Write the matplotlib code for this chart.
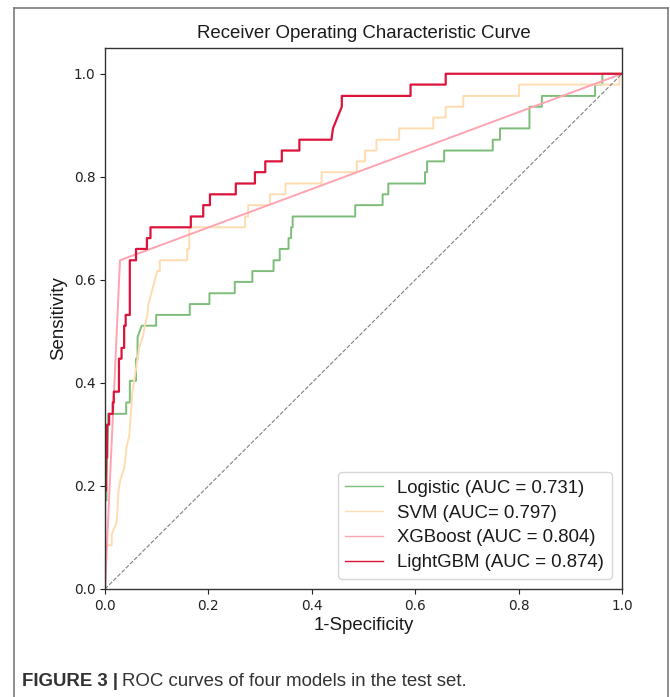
import matplotlib
matplotlib.use("Agg")
import matplotlib.pyplot as plt
from matplotlib.lines import Line2D

# ---- data ----
log_fpr = [0.0, 0.0, 0.003, 0.003, 0.006, 0.006, 0.041, 0.041, 0.048, 0.048, 0.060, 0.060,
           0.063, 0.063, 0.071, 0.099, 0.099, 0.164, 0.164, 0.202, 0.202, 0.251, 0.251,
           0.285, 0.285, 0.326, 0.326, 0.338, 0.338, 0.355, 0.355, 0.360, 0.360, 0.363,
           0.363, 0.484, 0.484, 0.537, 0.537, 0.548, 0.548, 0.619, 0.619, 0.623, 0.623,
           0.656, 0.656, 0.750, 0.750, 0.764, 0.764, 0.821, 0.821, 0.845, 0.845, 0.948,
           0.948, 0.962, 0.962, 1.0]
log_tpr = [0.0, 0.172, 0.172, 0.213, 0.319, 0.340, 0.340, 0.362, 0.362, 0.404, 0.404, 0.447,
           0.447, 0.489, 0.511, 0.511, 0.532, 0.532, 0.553, 0.553, 0.574, 0.574, 0.596,
           0.596, 0.617, 0.617, 0.638, 0.638, 0.660, 0.660, 0.681, 0.681, 0.702, 0.702,
           0.723, 0.723, 0.745, 0.745, 0.766, 0.766, 0.787, 0.787, 0.809, 0.809, 0.830,
           0.830, 0.851, 0.851, 0.872, 0.872, 0.894, 0.894, 0.936, 0.936, 0.957, 0.957,
           0.979, 0.979, 1.0, 1.0]

svm_fpr = [0.0, 0.001, 0.013, 0.013, 0.022, 0.024, 0.026, 0.030, 0.037, 0.042, 0.047, 0.053,
           0.063, 0.066, 0.073, 0.077, 0.082, 0.084, 0.101, 0.106, 0.106, 0.159, 0.159,
           0.163, 0.163, 0.271, 0.271, 0.277, 0.277, 0.319, 0.319, 0.349, 0.349, 0.419,
           0.419, 0.487, 0.487, 0.503, 0.503, 0.525, 0.525, 0.569, 0.569, 0.635, 0.635,
           0.659, 0.659, 0.693, 0.693, 0.801, 0.801, 0.995, 0.995, 1.0]
svm_tpr = [0.0, 0.085, 0.085, 0.106, 0.128, 0.149, 0.191, 0.213, 0.234, 0.277, 0.298, 0.383,
           0.447, 0.468, 0.489, 0.511, 0.532, 0.553, 0.617, 0.617, 0.638, 0.638, 0.660,
           0.660, 0.702, 0.702, 0.723, 0.723, 0.745, 0.745, 0.766, 0.766, 0.787, 0.787,
           0.809, 0.809, 0.830, 0.830, 0.851, 0.851, 0.872, 0.872, 0.894, 0.894, 0.915,
           0.915, 0.936, 0.936, 0.957, 0.957, 0.979, 0.979, 1.0, 1.0]

xgb_fpr = [0.0, 0.029, 1.0]
xgb_tpr = [0.0, 0.638, 1.0]

lgb_fpr = [0.0, 0.0, 0.002, 0.002, 0.004, 0.004, 0.008, 0.008, 0.015, 0.015, 0.017, 0.017,
           0.027, 0.027, 0.032, 0.032, 0.037, 0.037, 0.040, 0.040, 0.048, 0.048, 0.060,
           0.060, 0.081, 0.081, 0.088, 0.088, 0.166, 0.166, 0.190, 0.190, 0.203, 0.203,
           0.253, 0.253, 0.290, 0.290, 0.310, 0.310, 0.342, 0.342, 0.376, 0.376, 0.438,
           0.441, 0.458, 0.458, 0.591, 0.591, 0.659, 0.659, 1.0]
lgb_tpr = [0.0, 0.191, 0.191, 0.255, 0.255, 0.319, 0.319, 0.340, 0.340, 0.362, 0.362, 0.383,
           0.383, 0.447, 0.447, 0.468, 0.468, 0.511, 0.511, 0.532, 0.532, 0.638, 0.638,
           0.660, 0.660, 0.681, 0.681, 0.702, 0.702, 0.723, 0.723, 0.745, 0.745, 0.766,
           0.766, 0.787, 0.787, 0.809, 0.809, 0.830, 0.830, 0.851, 0.851, 0.872, 0.872,
           0.894, 0.936, 0.957, 0.957, 0.979, 0.979, 1.0, 1.0]

labels = ["Logistic (AUC = 0.731)", "SVM (AUC= 0.797)",
          "XGBoost (AUC = 0.804)", "LightGBM (AUC = 0.874)"]
colors = ["#7dbd7a", "#ffdcb0", "#ffa3b1", "#dc143c"]

tick_vals = [0.0, 0.2, 0.4, 0.6, 0.8, 1.0]
tick_labels = ["0.0", "0.2", "0.4", "0.6", "0.8", "1.0"]

SANS = ["Liberation Sans", "DejaVu Sans"]
FS = 13.4

fig = plt.figure(figsize=(6.70, 6.97), dpi=100)
ax = fig.add_axes([105 / 670, 1 - 589 / 697, 517 / 670, 541 / 697])

series = [(log_fpr, log_tpr), (svm_fpr, svm_tpr), (xgb_fpr, xgb_tpr), (lgb_fpr, lgb_tpr)]
lws = [1.4, 1.4, 1.4, 1.6]
for (fx, ty), lab, col, lw in zip(series, labels, colors, lws):
    ax.plot(fx, ty, color=col, lw=lw, label=lab)

ax.plot([0, 1], [0, 1], color="grey", lw=0.8, ls="--")

ax.set_xlim(0, 1)
ax.set_ylim(0, 1.05)
ax.set_xticks(tick_vals)
ax.set_xticklabels(tick_labels)
ax.set_yticks(tick_vals)
ax.set_yticklabels(tick_labels)
ax.tick_params(labelsize=9.8, colors="#222222")
for sp in ax.spines.values():
    sp.set_color("#333333")
    sp.set_linewidth(1.0)

ax.set_title("Receiver Operating Characteristic Curve", fontsize=FS, family=SANS,
             color="#1a1a1a", pad=7)
ax.set_xlabel("1-Specificity", fontsize=FS, family=SANS, color="#1a1a1a", labelpad=3)
ax.set_ylabel("Sensitivity", fontsize=FS, family=SANS, color="#1a1a1a", labelpad=5)

leg = ax.legend(loc="lower right", prop={"family": SANS, "size": FS},
                borderaxespad=0.55, handlelength=2.0, labelspacing=0.42)
for ln in leg.get_lines():
    ln.set_linewidth(1.0)
for t in leg.get_texts():
    t.set_color("#1a1a1a")

# outer figure frame (open at the bottom)
fc = "#7a7a7a"
x0, x1, y1 = 14 / 670, 668 / 670, 1 - 8 / 697
fig.add_artist(Line2D([x0, x0], [-0.01, y1], transform=fig.transFigure, color=fc, lw=1.2))
fig.add_artist(Line2D([x0, x1], [y1, y1], transform=fig.transFigure, color=fc, lw=1.2))
fig.add_artist(Line2D([x1, x1], [-0.01, y1], transform=fig.transFigure, color=fc, lw=1.2))

# caption
t1 = fig.text(22 / 670, 1 - 681 / 697, "FIGURE 3 |", fontsize=FS, fontweight="bold",
              family=SANS, color="#333333", va="center", ha="left")
fig.canvas.draw()
bb = t1.get_window_extent()
fig.text(bb.x1 / fig.bbox.width + 4 / 670, 1 - 681 / 697,
         "ROC curves of four models in the test set.", fontsize=FS,
         family=SANS, color="#333333", va="center", ha="left")

fig.savefig("out.png", dpi=100)
